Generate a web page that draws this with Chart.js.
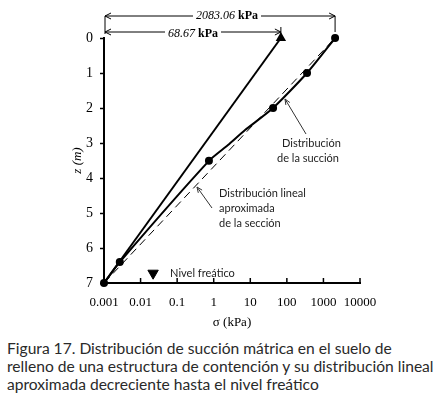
<!DOCTYPE html>
<html>
<head>
<meta charset="utf-8">
<script src="https://cdn.jsdelivr.net/npm/chart.js@4.4.1/dist/chart.umd.min.js"></script>
<style>
  html, body { margin: 0; padding: 0; background: #fff; }
  #wrap { position: relative; width: 440px; height: 399px; }
  canvas { display: block; }
  .caption {
    position: absolute; left: 7px; top: 339px; width: 433px;
    font-family: "Lato", "Noto Sans", sans-serif; font-size: 15.6px;
    line-height: 18px; color: #2a2a2a; white-space: nowrap;
  }
</style>
</head>
<body>
<div id="wrap">
  <canvas id="grafico" width="440" height="330"></canvas>
  <div class="caption">Figura 17. Distribución de succión mátrica en el suelo de<br>relleno de una estructura de contención y su distribución lineal<br>aproximada decreciente hasta el nivel freático</div>
</div>
<script>
// ejes
const xTickValues = [0.001, 0.01, 0.1, 1, 10, 100, 1000, 10000];
const xTickLabels = ["0.001", "0.01", "0.1", "1", "10", "100", "1000", "10000"];
const yTickLabels = ["0", "1", "2", "3", "4", "5", "6", "7"];

// recta hasta 68.67 kPa
const sigmaRecta = [0.001, 68.67];
const zRecta = [7, 0];

// distribucion de la succion (curva medida)
const sigmaSuccion = [2083.06, 356, 42, 7.2, 2.46, 0.74, 0.0027, 0.001];
const zSuccion = [0, 1, 2, 2.63, 3.06, 3.51, 6.4, 7];
const zMarcados = [0, 1, 2, 3.51, 6.4, 7];

// distribucion lineal aproximada
const sigmaLineal = [0.001, 2083.06];
const zLineal = [7, 0];

// nivel freatico
const sigmaFreatico = [0.022];
const zFreatico = [6.72];

const pts = (xs, ys) => xs.map((v, i) => ({ x: v, y: ys[i] }));

const serif = "'Liberation Serif', 'DejaVu Serif', serif";
const sans = "Lato, 'Noto Sans', sans-serif";

function flecha(ctx, x, y, dir) {
    ctx.beginPath();
    ctx.moveTo(x + dir * 6, y - 3);
    ctx.lineTo(x, y);
    ctx.lineTo(x + dir * 6, y + 3);
    ctx.stroke();
}

const anotaciones = {
    id: "anotaciones",
    afterDraw(chart) {
        const { ctx, scales: { x, y } } = chart;
        const xIni = x.getPixelForValue(sigmaRecta[0]);
        const xA = x.getPixelForValue(sigmaRecta[1]);
        const xB = x.getPixelForValue(sigmaLineal[1]);
        const yBase = y.getPixelForValue(7);
        ctx.save();
        ctx.strokeStyle = "#000";
        ctx.fillStyle = "#000";

        // marcas interiores del eje x
        ctx.lineWidth = 1.5;
        xTickValues.forEach((v) => {
            const px = x.getPixelForValue(v);
            ctx.beginPath();
            ctx.moveTo(px, yBase);
            ctx.lineTo(px, yBase - 5);
            ctx.stroke();
        });

        // cotas superiores
        ctx.lineWidth = 1;
        const y1 = 16, y2 = 32;
        ctx.beginPath();
        ctx.moveTo(xIni + 1, y1); ctx.lineTo(xB, y1);
        ctx.moveTo(xIni + 1, y1); ctx.lineTo(xIni + 1, 34);
        ctx.moveTo(xB, y1); ctx.lineTo(xB, 32);
        ctx.moveTo(xIni + 1, y2); ctx.lineTo(xA, y2);
        ctx.moveTo(xA, 27); ctx.lineTo(xA, 37);
        ctx.stroke();
        flecha(ctx, xIni + 1, y1, 1);
        flecha(ctx, xB, y1, -1);
        flecha(ctx, xIni + 1, y2, 1);
        flecha(ctx, xA, y2, -1);

        const etiqueta = (num, cx, cy) => {
            ctx.font = "italic 12px " + serif;
            const w1 = ctx.measureText(num + " ").width;
            ctx.font = "bold 12px " + serif;
            const w2 = ctx.measureText("kPa").width;
            const left = cx - (w1 + w2) / 2;
            ctx.fillStyle = "#fff";
            ctx.fillRect(left - 3, cy - 7, w1 + w2 + 6, 14);
            ctx.fillStyle = "#000";
            ctx.textBaseline = "middle";
            ctx.textAlign = "left";
            ctx.font = "italic 12px " + serif;
            ctx.fillText(num, left, cy);
            ctx.font = "bold 12px " + serif;
            ctx.fillText("kPa", left + w1, cy);
        };
        etiqueta("2083.06", 227, y1);
        etiqueta("68.67", 193, y2 + 2);

        // textos explicativos
        ctx.font = "11px " + sans;
        ctx.fillStyle = "#222";
        ctx.textAlign = "left";
        ctx.textBaseline = "middle";
        ctx.fillText("Distribución", 282, 143);
        ctx.fillText("de la succión", 277, 158);
        ctx.fillText("Distribución lineal", 219, 193);
        ctx.fillText("aproximada", 219, 208);
        ctx.fillText("de la sección", 219, 223);
        const xFr = x.getPixelForValue(sigmaFreatico[0]);
        const yFr = y.getPixelForValue(zFreatico[0]);
        ctx.fillText("Nivel freático", xFr + 17, yFr);

        // flechas de las leyendas
        ctx.strokeStyle = "#333";
        ctx.beginPath();
        ctx.moveTo(306, 134); ctx.lineTo(285, 99);
        ctx.moveTo(212, 208); ctx.lineTo(197, 187);
        ctx.stroke();
        const punta = (x0, y0, x1, y1) => {
            const a = Math.atan2(y1 - y0, x1 - x0);
            ctx.beginPath();
            ctx.moveTo(x1 - 6 * Math.cos(a - 0.4), y1 - 6 * Math.sin(a - 0.4));
            ctx.lineTo(x1, y1);
            ctx.lineTo(x1 - 6 * Math.cos(a + 0.4), y1 - 6 * Math.sin(a + 0.4));
            ctx.stroke();
        };
        punta(306, 134, 285, 99);
        punta(212, 208, 197, 187);
        ctx.restore();
    },
};

const configGrafico = {
    type: "scatter",
    data: {
        datasets: [
            {
                label: "68.67 kPa",
                data: pts(sigmaRecta, zRecta),
                showLine: true,
                clip: false,
                borderColor: "#000",
                backgroundColor: "#000",
                borderWidth: 2,
                pointStyle: "triangle",
                pointRadius: (c) => (c.raw && c.raw.y === 0 ? 4 : 0),
            },
            {
                label: "Distribución lineal aproximada",
                data: pts(sigmaLineal, zLineal),
                showLine: true,
                borderColor: "#000",
                borderWidth: 1,
                borderDash: [8, 5],
                pointRadius: 0,
            },
            {
                label: "Distribución de la succión",
                data: pts(sigmaSuccion, zSuccion),
                showLine: true,
                clip: false,
                tension: 0.2,
                borderColor: "#000",
                backgroundColor: "#000",
                borderWidth: 2,
                pointStyle: "circle",
                pointRadius: (c) => (c.raw && zMarcados.includes(c.raw.y) ? 3 : 0),
            },
            {
                label: "Nivel freático",
                data: pts(sigmaFreatico, zFreatico),
                backgroundColor: "#000",
                borderColor: "#000",
                pointStyle: "triangle",
                rotation: 180,
                pointRadius: 6,
            },
        ],
    },
    options: {
        responsive: false,
        animation: false,
        layout: { padding: { left: 70, top: 38, right: 80, bottom: 0 } },
        plugins: {
            legend: { display: false },
            tooltip: { enabled: false },
        },
        scales: {
            x: {
                type: "logarithmic",
                min: 0.001,
                max: 10000,
                afterBuildTicks: (s) => {
                    s.ticks = xTickValues.map((v) => ({ value: v }));
                },
                afterFit: (s) => { s.height = 47; },
                ticks: {
                    autoSkip: false,
                    maxRotation: 0,
                    padding: 12,
                    color: "#000",
                    font: { family: serif, size: 13 },
                    callback: (v, i) => xTickLabels[i],
                },
                grid: { display: true, drawOnChartArea: false, drawTicks: false },
                border: { color: "#000", width: 2 },
                title: {
                    display: true,
                    text: "σ (kPa)",
                    color: "#000",
                    font: { family: serif, size: 13 },
                    padding: { top: 0, bottom: 0 },
                },
            },
            y: {
                reverse: true,
                min: 0,
                max: 7,
                afterFit: (s) => { s.width = 34; },
                ticks: {
                    stepSize: 1,
                    padding: 7,
                    color: "#000",
                    font: { family: serif, size: 14 },
                    callback: (v) => yTickLabels[v],
                },
                grid: { drawOnChartArea: false, tickLength: 4, tickWidth: 1.5, tickColor: "#000" },
                border: { color: "#000", width: 2 },
                title: {
                    display: true,
                    text: "z (m)",
                    color: "#000",
                    font: { family: serif, size: 13, style: "italic" },
                    padding: { top: 0, bottom: 0 },
                },
            },
        },
    },
    plugins: [anotaciones],
};

const grafico = new Chart(document.getElementById("grafico"), configGrafico);
</script>
</body>
</html>
